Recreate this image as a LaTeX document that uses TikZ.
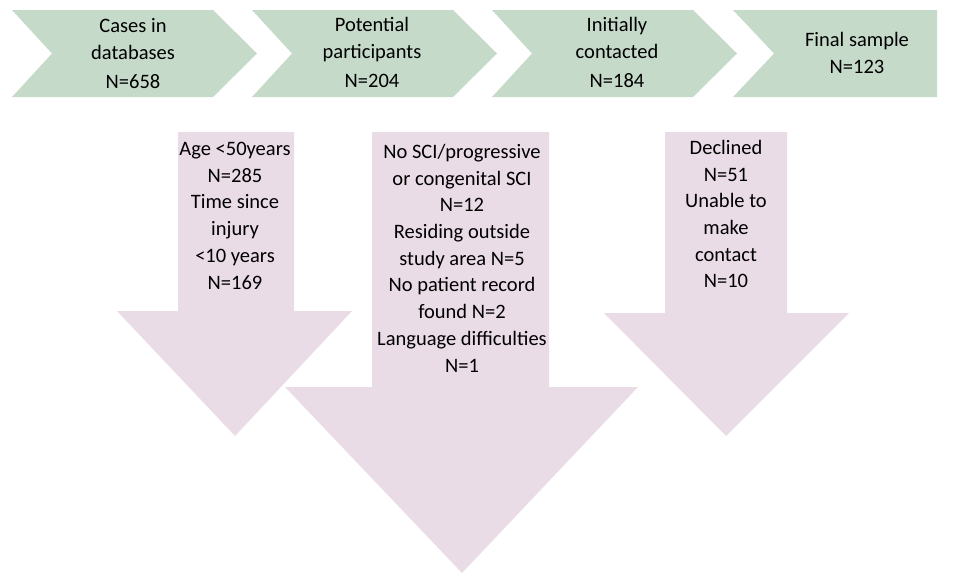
\documentclass[tikz,border=0pt]{standalone}
\usepackage{fontspec}
\setmainfont{Carlito}
\usetikzlibrary{positioning}
\definecolor{stagegreen}{RGB}{197,218,201}
\definecolor{droppink}{RGB}{234,220,231}
\tikzset{
  stage/.style = {fill=stagegreen, draw=none},% chevrons du haut
  drop/.style = {fill=droppink, draw=none},% fleches d'exclusion
  lbl/.style = {align=center, inner sep=0pt, anchor=north,
    font=\fontsize{20.5}{26.7}\selectfont}
}

\begin{document}
\begin{tikzpicture}[x=1pt,y=-1pt]
\useasboundingbox (0,0) rectangle (973,573);

% chevrons
\fill[stage] (12,10) -- (213,10) -- (257,53.5) -- (213,97) -- (12,97) -- (52,53.5) -- cycle;
\fill[stage] (252,10) -- (453,10) -- (497,53.5) -- (453,97) -- (252,97) -- (292,53.5) -- cycle;
\fill[stage] (492,10) -- (693,10) -- (737,53.5) -- (693,97) -- (492,97) -- (532,53.5) -- cycle;
\fill[stage] (733,10) -- (937,10) -- (937,97) -- (733,97) -- (774,53.5) -- cycle;

\node[lbl] (cases) at (133,18) {Cases in\\databases\\[3pt]N=658};
\node[lbl] (potential) at (372,17) {Potential\\participants\\[3pt]N=204};
\node[lbl] (contacted) at (617,17) {Initially\\contacted\\[3pt]N=184};
\node[lbl] (final) at (857,32) {Final sample\\N=123};

% fleches vers le bas
\fill[drop] (178,132) -- (294,132) -- (294,311) -- (352,311) -- (235,436)
  -- (117,311) -- (178,311) -- cycle;
\fill[drop] (372,132) -- (549,132) -- (549,387) -- (638,387) -- (462,573)
  -- (285,387) -- (372,387) -- cycle;
\fill[drop] (665,132) -- (787,132) -- (787,313) -- (849,313) -- (726,436)
  -- (604,313) -- (665,313) -- cycle;

\node[lbl] (age) at (235,142) {Age <50years\\N=285\\Time since\\injury\\<10 years\\N=169};
\node[lbl] (nosci) at (462,144) {No SCI/progressive\\or congenital SCI\\N=12\\Residing outside\\study area N=5\\No patient record\\found N=2\\Language difficulties\\N=1};
\node[lbl] (declined) at (726,140) {Declined\\N=51\\Unable to\\make\\contact\\N=10};

%\node[lbl] at (462,500) {};
\end{tikzpicture}
\end{document}
